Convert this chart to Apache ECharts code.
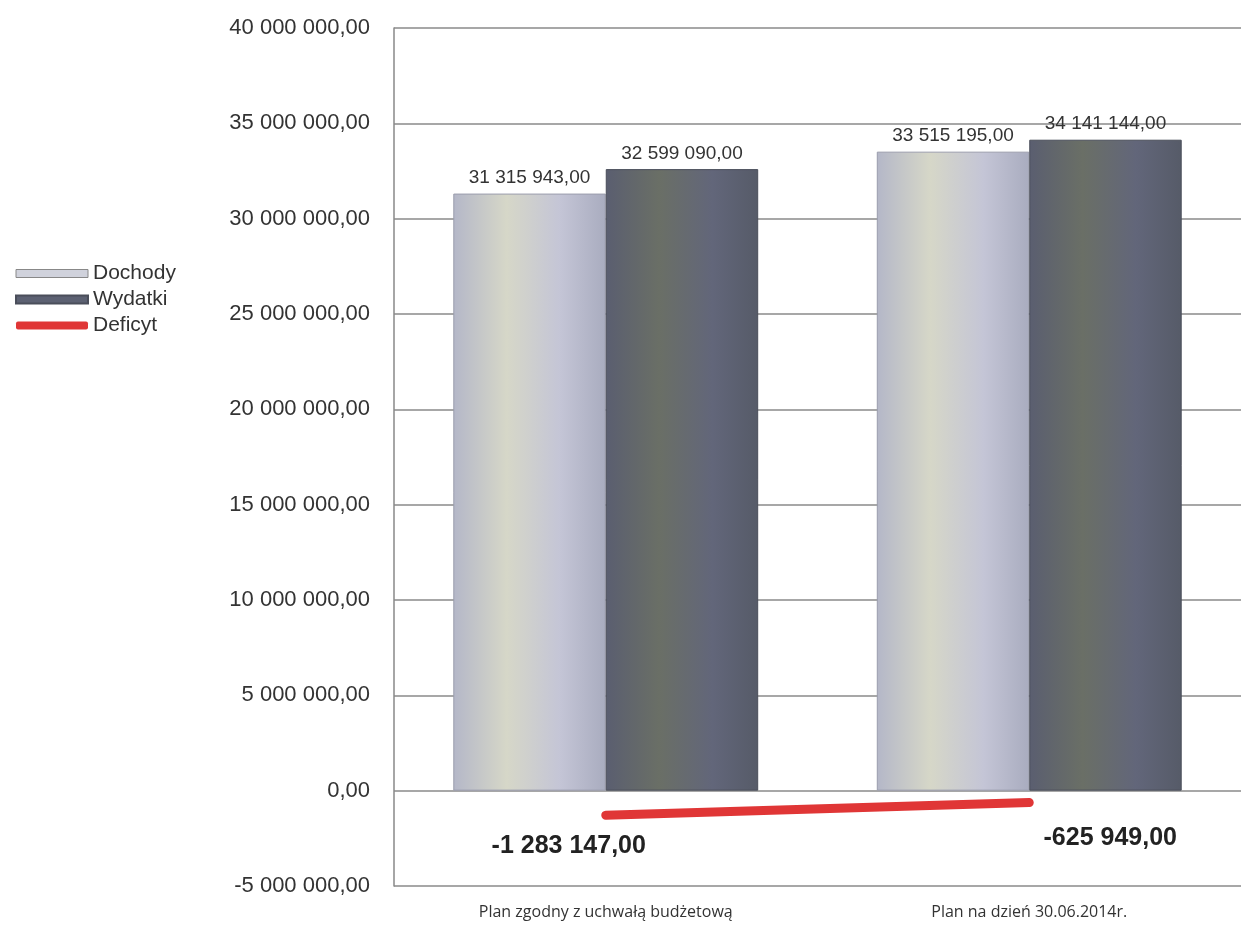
<!DOCTYPE html>
<html>
<head>
<meta charset="utf-8">
<script src="https://cdn.jsdelivr.net/npm/echarts@6/dist/echarts.min.js"></script>
<style>
html,body{margin:0;padding:0;background:#fff;}
#chart{width:1241px;height:931px;}
</style>
</head>
<body>
<div id="chart"></div>
<script>
// Budget plan: revenue, expenditure and deficit
const categories = ['Plan zgodny z uchwałą budżetową', 'Plan na dzień 30.06.2014r.'];
const dochody = [31315943.00, 33515195.00];
const wydatki = [32599090.00, 34141144.00];
const deficyt = [-1283147.00, -625949.00];
const yTicks = { min: -5000000, max: 40000000, step: 5000000 };

// Polish number formatting: space thousands separator, comma decimals
function fmt(v) {
  const neg = v < 0;
  const parts = Math.abs(v).toFixed(2).split('.');
  const intPart = parts[0].replace(/\B(?=(\d{3})+(?!\d))/g, ' ');
  return (neg ? '-' : '') + intPart + ',' + parts[1];
}

const chart = echarts.init(document.getElementById('chart'));

const lightBar = new echarts.graphic.LinearGradient(0, 0, 1, 0, [
  { offset: 0, color: '#b4b7c8' },
  { offset: 0.35, color: '#d6d7c8' },
  { offset: 0.7, color: '#c4c5d6' },
  { offset: 1, color: '#a9acbf' }
]);
const darkBar = new echarts.graphic.LinearGradient(0, 0, 1, 0, [
  { offset: 0, color: '#5a5e70' },
  { offset: 0.35, color: '#6a6f66' },
  { offset: 0.7, color: '#62667a' },
  { offset: 1, color: '#565b68' }
]);

// per-point placement of the deficit value labels
const deficitLabelOffsets = [[-37, 13], [81, 18]];

chart.setOption({
  backgroundColor: '#ffffff',
  animation: false,
  textStyle: { fontFamily: 'Liberation Sans, Arial, sans-serif' },
  legend: {
    orient: 'vertical',
    left: 10,
    top: 258,
    itemWidth: 72,
    itemHeight: 8,
    itemGap: 5,
    textStyle: { fontSize: 21, color: '#333' },
    data: [
      { name: 'Dochody', icon: 'rect', itemStyle: { color: '#d0d2dc', borderColor: '#888', borderWidth: 1 } },
      { name: 'Wydatki', icon: 'rect', itemStyle: { color: '#5c6172' } },
      { name: 'Deficyt', icon: 'roundRect', itemStyle: { color: '#e03636' } }
    ]
  },
  grid: { left: 394, right: -5, top: 28, bottom: 45 },
  xAxis: {
    type: 'category',
    data: categories,
    axisLine: { show: false },
    axisTick: { show: false },
    axisLabel: { fontSize: 16, color: '#333', margin: 18, fontFamily: 'Open Sans, sans-serif' }
  },
  yAxis: {
    type: 'value',
    min: yTicks.min,
    max: yTicks.max,
    interval: yTicks.step,
    axisLine: { show: true, lineStyle: { color: '#888', width: 1.5 } },
    axisTick: { show: false },
    splitLine: { lineStyle: { color: '#8a8a8a', width: 1.5 } },
    axisLabel: { fontSize: 22, color: '#333', margin: 24, formatter: v => fmt(v) }
  },
  series: [
    {
      name: 'Dochody',
      type: 'bar',
      data: dochody,
      barGap: '0%',
      barCategoryGap: '28%',
      itemStyle: { color: lightBar, borderColor: '#9a9cac', borderWidth: 1 },
      label: { show: true, position: 'top', fontSize: 19, color: '#333', distance: 6, formatter: p => fmt(p.value) }
    },
    {
      name: 'Wydatki',
      type: 'bar',
      data: wydatki,
      itemStyle: { color: darkBar, borderColor: '#4a4e5a', borderWidth: 1 },
      label: { show: true, position: 'top', fontSize: 19, color: '#333', distance: 6, formatter: p => fmt(p.value) }
    },
    {
      name: 'Deficyt',
      type: 'line',
      data: deficyt.map((v, i) => ({
        value: v,
        label: { offset: deficitLabelOffsets[i] }
      })),
      showSymbol: true,
      symbol: 'circle',
      symbolSize: 1,
      lineStyle: { color: '#e03636', width: 9, cap: 'round' },
      itemStyle: { color: '#e03636' },
      z: 5,
      label: {
        show: true,
        position: 'bottom',
        fontSize: 25,
        fontWeight: 'bold',
        color: '#222',
        formatter: p => fmt(p.value)
      }
    }
  ]
});
</script>
</body>
</html>
